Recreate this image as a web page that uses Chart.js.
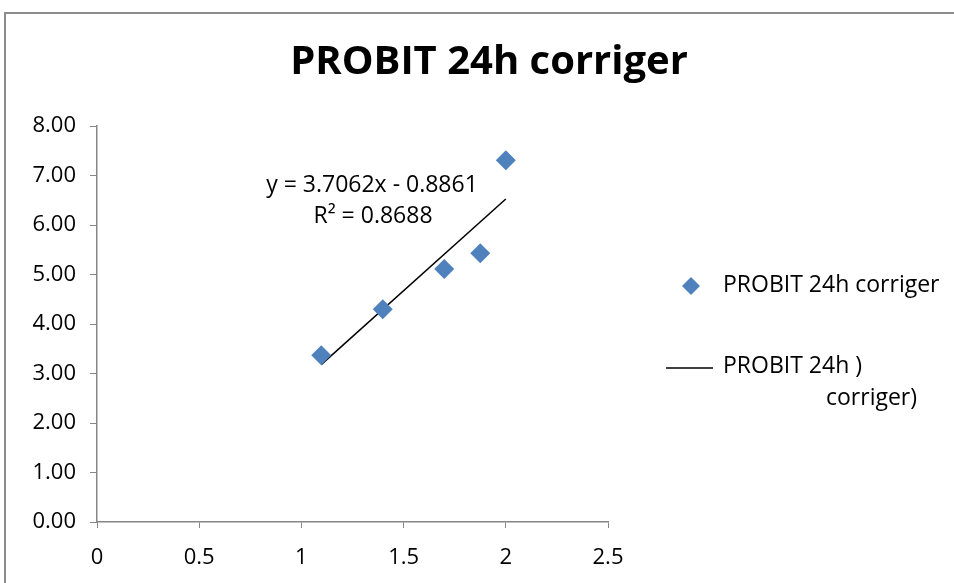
<!DOCTYPE html>
<html lang="fr">
<head>
<meta charset="UTF-8">
<title>PROBIT 24h corriger</title>
<script src="https://cdn.jsdelivr.net/npm/chart.js"></script>
<style>
    body { margin: 0; background: #fff; }
    #wrap { width: 954px; height: 583px; position: relative; }
</style>
</head>
<body>
<div id="wrap"><canvas id="probitChart" width="954" height="583"></canvas></div>
<script>
    // données (log concentration -> probit corrigé)
    const logDose = [1.097, 1.398, 1.699, 1.875, 2.0];
    const probit = [3.37, 4.30, 5.11, 5.43, 7.31];
    const yTicks = [0, 1, 2, 3, 4, 5, 6, 7, 8];
    const xTicks = [0, 0.5, 1, 1.5, 2, 2.5];
    const slope = 3.7062;
    const intercept = -0.8861;
    const rSquared = 0.8688;

    const seriesName = "PROBIT 24h corriger";
    const trendName = ["PROBIT 24h )", "corriger)"];

    const FONT = "'Open Sans', 'Liberation Sans', sans-serif";
    const axisGray = "#868686";
    const blue = "#4F81BD";

    const points = logDose.map((x, i) => ({ x: x, y: probit[i] }));
    const xMin = Math.min(...logDose), xMax = Math.max(...logDose);
    const trend = [
        { x: xMin, y: slope * xMin + intercept },
        { x: xMax, y: slope * xMax + intercept }
    ];

    // titre, équation, légende et cadre dessinés à la main
    const decor = {
        id: "decor",
        beforeDraw(chart) {
            const c = chart.ctx;
            c.save();
            c.fillStyle = "#fff";
            c.fillRect(0, 0, chart.width, chart.height);
            c.restore();
        },
        afterDraw(chart) {
            const c = chart.ctx;
            c.save();
            // cadre
            c.strokeStyle = "#8c8c8c";
            c.lineWidth = 2;
            c.beginPath();
            c.moveTo(5, chart.height);
            c.lineTo(5, 13);
            c.lineTo(chart.width, 13);
            c.stroke();

            // titre
            c.fillStyle = "#000";
            c.textAlign = "center";
            c.textBaseline = "middle";
            c.font = "bold 40px " + FONT;
            c.fillText(seriesName, 489, 63);

            // équation de la tendance
            c.font = "23px " + FONT;
            const sign = intercept < 0 ? " - " : " + ";
            c.fillText("y = " + slope.toFixed(4) + "x" + sign + Math.abs(intercept).toFixed(4), 372, 185);
            c.fillText("R\u00B2 = " + rSquared.toFixed(4), 373, 216);

            // légende
            c.textAlign = "left";
            c.fillStyle = blue;
            c.beginPath();
            c.moveTo(691, 277); c.lineTo(700, 286); c.lineTo(691, 295); c.lineTo(682, 286);
            c.closePath();
            c.fill();
            c.fillStyle = "#000";
            c.font = "23px " + FONT;
            c.fillText(seriesName, 723, 285);
            c.strokeStyle = "#000";
            c.lineWidth = 1.5;
            c.beginPath();
            c.moveTo(666, 368); c.lineTo(713, 368);
            c.stroke();
            c.fillText(trendName[0], 723, 366);
            c.fillText(trendName[1], 826, 398);
            c.restore();
        }
    };

    new Chart(document.getElementById("probitChart"), {
        type: "scatter",
        data: {
            datasets: [
                {
                    label: seriesName,
                    data: points,
                    pointStyle: "rectRot",
                    pointRadius: 10,
                    pointHoverRadius: 10,
                    backgroundColor: blue,
                    borderColor: blue,
                    borderWidth: 0
                },
                {
                    type: "line",
                    label: trendName.join(" "),
                    data: trend,
                    borderColor: "#000",
                    borderWidth: 1.5,
                    pointRadius: 0,
                    fill: false
                }
            ]
        },
        options: {
            responsive: false,
            animation: false,
            layout: { padding: { left: 0, right: 346, top: 126, bottom: 0 } },
            plugins: {
                legend: { display: false },
                title: { display: false },
                tooltip: { enabled: false }
            },
            scales: {
                x: {
                    type: "linear",
                    min: 0, max: 2.5,
                    afterBuildTicks: s => { s.ticks = xTicks.map(v => ({ value: v })); },
                    afterFit: s => { s.height = 61; },
                    grid: { display: true, drawOnChartArea: false, drawTicks: true, tickLength: 6, color: axisGray },
                    border: { display: true, color: axisGray, width: 1.5 },
                    ticks: {
                        color: "#000", padding: 17, font: { family: FONT, size: 22 },
                        callback: v => String(v)
                    }
                },
                y: {
                    min: 0, max: 8,
                    afterBuildTicks: s => { s.ticks = yTicks.map(v => ({ value: v })); },
                    afterFit: s => { s.width = 97; },
                    grid: { display: true, drawOnChartArea: false, drawTicks: true, tickLength: 7, color: axisGray },
                    border: { display: true, color: axisGray, width: 1.5 },
                    ticks: {
                        color: "#000", padding: 14, font: { family: FONT, size: 22 },
                        callback: v => Number(v).toFixed(2)
                    }
                }
            }
        },
        plugins: [decor]
    });
</script>
</body>
</html>
